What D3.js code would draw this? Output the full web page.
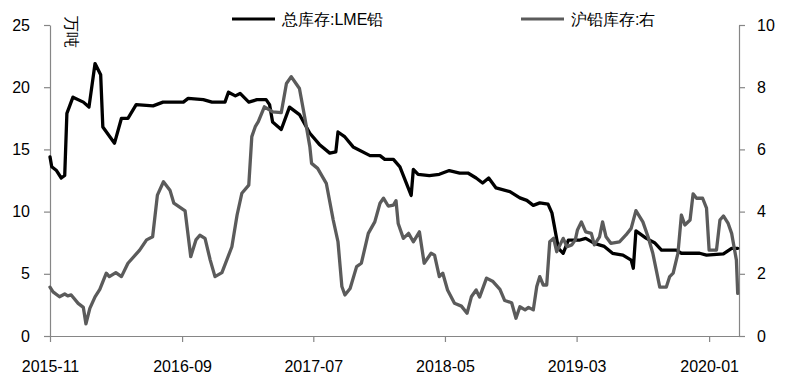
<!DOCTYPE html>
<html>
<head>
<meta charset="utf-8">
<script src="https://cdn.jsdelivr.net/npm/d3@7"></script>
<style>
  html, body { margin: 0; padding: 0; background: #fff; }
  svg { display: block; }
  text { font-family: "Liberation Sans", Arial, sans-serif; }
</style>
</head>
<body>
<svg id="chart" width="790" height="389"></svg>
<script>
// ---- data ----
const lmeName = "总库存:LME铅";
const shfeName = "沪铅库存:右";
const unitLabel = "万吨";
const xTickLabels = ["2015-11", "2016-09", "2017-07", "2018-05", "2019-03", "2020-01"];
const leftTicks = [0, 5, 10, 15, 20, 25];
const rightTicks = [0, 2, 4, 6, 8, 10];

const lmeDates = ["2015-11-01","2015-11-05","2015-11-16","2015-11-27","2015-12-05","2015-12-10","2015-12-24","2016-01-17","2016-01-30","2016-02-13","2016-02-26","2016-03-02","2016-03-29","2016-04-14","2016-04-29","2016-05-18","2016-06-26","2016-07-19","2016-09-04","2016-09-15","2016-10-20","2016-11-09","2016-12-09","2016-12-17","2017-01-02","2017-01-13","2017-02-02","2017-02-21","2017-03-14","2017-03-22","2017-03-29","2017-04-18","2017-05-07","2017-05-30","2017-06-23","2017-07-15","2017-08-08","2017-08-22","2017-08-27","2017-09-12","2017-10-01","2017-11-09","2017-12-02","2017-12-13","2018-01-02","2018-01-17","2018-02-12","2018-02-17","2018-02-28","2018-03-26","2018-04-18","2018-05-11","2018-06-04","2018-06-23","2018-07-12","2018-07-27","2018-08-10","2018-08-27","2018-09-28","2018-10-21","2018-11-06","2018-11-21","2018-12-06","2018-12-25","2019-01-03","2019-01-18","2019-01-29","2019-02-10","2019-03-07","2019-03-22","2019-04-11","2019-05-04","2019-05-23","2019-06-16","2019-07-05","2019-07-10","2019-07-16","2019-08-09","2019-08-28","2019-09-13","2019-10-17","2019-10-29","2019-12-10","2019-12-26","2020-02-03","2020-02-22","2020-03-07"];
const lmeValues = [14.4,13.6,13.3,12.7,12.9,17.9,19.2,18.8,18.4,21.9,21.0,16.8,15.5,17.5,17.5,18.6,18.5,18.8,18.8,19.1,19.0,18.8,18.8,19.6,19.3,19.5,18.8,19.0,19.0,18.6,17.2,16.6,18.4,17.8,16.3,15.4,14.7,14.8,16.4,16.0,15.2,14.5,14.5,14.2,14.2,13.6,11.3,13.4,13.0,12.9,13.0,13.3,13.1,13.1,12.7,12.3,12.7,11.9,11.6,11.1,10.9,10.5,10.7,10.6,9.9,7.05,6.65,7.7,7.7,7.85,7.45,7.2,6.65,6.5,6.1,5.45,8.45,7.85,7.5,6.9,6.9,6.65,6.65,6.5,6.6,7.05,7.05];

const shfeDates = ["2015-11-01","2015-11-08","2015-11-23","2015-12-05","2015-12-12","2015-12-20","2016-01-05","2016-01-17","2016-01-23","2016-02-01","2016-02-13","2016-02-24","2016-03-10","2016-03-17","2016-04-01","2016-04-14","2016-04-29","2016-05-26","2016-06-11","2016-06-25","2016-07-06","2016-07-20","2016-08-04","2016-08-13","2016-09-08","2016-09-21","2016-10-03","2016-10-12","2016-10-24","2016-11-05","2016-11-16","2016-12-02","2016-12-25","2017-01-06","2017-01-17","2017-02-02","2017-02-09","2017-02-17","2017-02-24","2017-03-10","2017-03-29","2017-04-18","2017-04-30","2017-05-11","2017-05-22","2017-05-30","2017-06-11","2017-06-23","2017-06-27","2017-07-11","2017-07-31","2017-08-16","2017-08-27","2017-09-05","2017-09-12","2017-09-24","2017-10-09","2017-10-20","2017-11-05","2017-11-20","2017-12-02","2017-12-10","2017-12-21","2018-01-02","2018-01-08","2018-01-13","2018-01-25","2018-02-06","2018-02-17","2018-03-03","2018-03-14","2018-03-30","2018-04-07","2018-04-18","2018-04-26","2018-05-07","2018-05-23","2018-06-08","2018-06-21","2018-07-01","2018-07-12","2018-07-20","2018-08-05","2018-08-20","2018-09-05","2018-09-16","2018-10-02","2018-10-12","2018-10-21","2018-11-02","2018-11-10","2018-11-21","2018-11-29","2018-12-06","2018-12-14","2018-12-22","2018-12-29","2019-01-07","2019-01-14","2019-01-29","2019-02-07","2019-02-18","2019-02-26","2019-03-03","2019-03-12","2019-03-22","2019-04-04","2019-04-11","2019-04-23","2019-04-30","2019-05-08","2019-05-19","2019-06-08","2019-06-23","2019-07-05","2019-07-16","2019-08-01","2019-08-13","2019-08-24","2019-09-01","2019-09-09","2019-09-24","2019-10-02","2019-10-10","2019-10-21","2019-10-29","2019-11-06","2019-11-18","2019-11-25","2019-12-03","2019-12-17","2019-12-26","2020-01-01","2020-01-18","2020-01-26","2020-02-03","2020-02-14","2020-02-22","2020-03-04","2020-03-07"];
const shfeValues = [1.57,1.42,1.26,1.35,1.29,1.32,1.05,0.92,0.39,0.89,1.26,1.5,2.02,1.91,2.04,1.91,2.34,2.76,3.09,3.19,4.53,4.96,4.69,4.27,4.02,2.55,3.09,3.24,3.14,2.44,1.91,2.04,2.87,3.89,4.59,4.85,6.41,6.73,6.89,7.37,7.21,7.18,8.12,8.34,8.12,7.96,7.05,6.09,5.55,5.39,4.91,3.73,3.03,1.59,1.32,1.53,2.23,2.34,3.30,3.67,4.27,4.43,4.18,4.21,4.35,3.62,3.14,3.30,3.03,3.35,2.34,2.66,2.6,1.91,2.02,1.48,1.05,0.96,0.73,1.26,1.48,1.25,1.86,1.75,1.5,1.14,1.07,0.57,0.94,0.84,0.92,0.84,1.59,1.91,1.64,1.64,3.03,3.14,2.71,3.14,2.87,2.93,3.09,3.41,3.67,3.35,3.30,2.93,3.19,3.67,3.19,2.98,3.03,3.25,3.46,4.03,3.67,3.19,2.66,2.12,1.57,1.57,1.91,2.02,2.66,3.89,3.57,3.73,4.57,4.43,4.43,4.11,2.76,2.76,3.73,3.86,3.62,3.30,2.44,1.37];

const xStart = "2015-11-01";
const xEnd = "2020-03-10";

// ---- chart ----
const parse = d3.timeParse("%Y-%m-%d");
const parseMonth = d3.timeParse("%Y-%m");
const svg = d3.select("#chart");
const W = 790, H = 389;
const m = { left: 50, right: 51, top: 25, bottom: 53 };
const axisColor = "#868686";

svg.append("rect").attr("width", W).attr("height", H).attr("fill", "#fff");

const x = d3.scaleTime()
  .domain([parse(xStart), parse(xEnd)])
  .range([m.left, W - m.right]);
const yL = d3.scaleLinear().domain([0, 25]).range([H - m.bottom, m.top]);
const yR = d3.scaleLinear().domain([0, 10]).range([H - m.bottom, m.top]);

const lme = lmeDates.map((d, i) => ({ date: parse(d), v: lmeValues[i] }));
const shfe = shfeDates.map((d, i) => ({ date: parse(d), v: shfeValues[i] }));

function styleAxis(g) {
  g.selectAll(".domain").attr("stroke", axisColor).attr("stroke-width", 1.2);
  g.selectAll(".tick line").attr("stroke", axisColor).attr("stroke-width", 1.2);
  g.selectAll(".tick text").attr("fill", "#000")
    .style("font-family", "'Liberation Sans', Arial, sans-serif")
    .style("font-size", "16px");
}

// left axis
const gL = svg.append("g").attr("transform", `translate(${m.left},0)`)
  .call(d3.axisLeft(yL).tickValues(leftTicks).tickSize(6).tickPadding(14).tickSizeOuter(0));
styleAxis(gL);

// right axis
const gR = svg.append("g").attr("transform", `translate(${W - m.right},0)`)
  .call(d3.axisRight(yR).tickValues(rightTicks).tickSize(6).tickPadding(12).tickSizeOuter(0));
styleAxis(gR);

// bottom axis
const gB = svg.append("g").attr("transform", `translate(0,${H - m.bottom})`)
  .call(d3.axisBottom(x).tickValues(xTickLabels.map(parseMonth))
    .tickFormat(d3.timeFormat("%Y-%m")).tickSize(6).tickPadding(19).tickSizeOuter(0));
styleAxis(gB);

// lines
const lineL = d3.line().x(d => x(d.date)).y(d => yL(d.v));
const lineR = d3.line().x(d => x(d.date)).y(d => yR(d.v));

svg.append("path").datum(lme).attr("d", lineL)
  .attr("fill", "none").attr("stroke", "#000").attr("stroke-width", 3.3)
  .attr("stroke-linejoin", "round").attr("stroke-linecap", "round");
svg.append("path").datum(shfe).attr("d", lineR)
  .attr("fill", "none").attr("stroke", "#5b5b5b").attr("stroke-width", 3.3)
  .attr("stroke-linejoin", "round").attr("stroke-linecap", "round");

// unit label
svg.append("text")
  .attr("transform", "translate(71,16) rotate(90)")
  .attr("font-family", "'Noto Sans CJK SC', sans-serif")
  .attr("font-size", 16)
  .attr("dominant-baseline", "central")
  .text(unitLabel);

// legend
const legend = [
  { name: lmeName, color: "#000", x: 232 },
  { name: shfeName, color: "#5b5b5b", x: 521 }
];
legend.forEach(l => {
  svg.append("line").attr("x1", l.x).attr("x2", l.x + 43).attr("y1", 19).attr("y2", 19)
    .attr("stroke", l.color).attr("stroke-width", 3);
  svg.append("text").attr("x", l.x + 50).attr("y", 25)
    .attr("font-family", "'Liberation Sans', 'Noto Sans CJK SC', sans-serif")
    .attr("font-size", 16).attr("fill", "#000")
    .text(l.name);
});
</script>
</body>
</html>
